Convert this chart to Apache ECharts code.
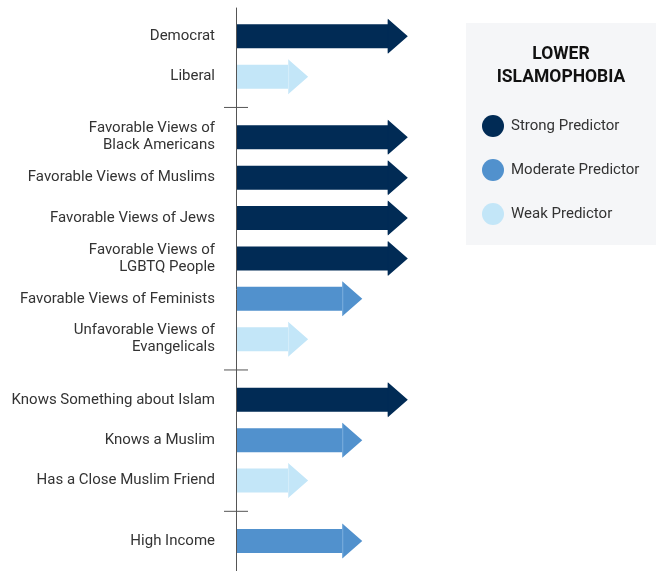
<!DOCTYPE html>
<html>
<head>
<meta charset="utf-8">
<script src="https://cdn.jsdelivr.net/npm/echarts@6/dist/echarts.min.js"></script>
<style>
  html, body { margin: 0; padding: 0; background: #fff; }
  #main { width: 656px; height: 571px; }
</style>
</head>
<body>
<div id="main"></div>
<script>
// rows, top to bottom
const labels = [
  'Democrat',
  'Liberal',
  'Favorable Views of\nBlack Americans',
  'Favorable Views of Muslims',
  'Favorable Views of Jews',
  'Favorable Views of\nLGBTQ People',
  'Favorable Views of Feminists',
  'Unfavorable Views of\nEvangelicals',
  'Knows Something about Islam',
  'Knows a Muslim',
  'Has a Close Muslim Friend',
  'High Income'
]
const strength = ['Strong', 'Weak', 'Strong', 'Strong', 'Strong', 'Strong',
  'Moderate', 'Weak', 'Strong', 'Moderate', 'Weak', 'Moderate']
// rows per group (groups split by a tick on the axis)
const groupSizes = [2, 6, 3, 1]
// arrow body length for each level
const levelValue = { Strong: 3, Moderate: 2.1, Weak: 1.03 }
const levels = ['Strong', 'Moderate', 'Weak']
const colors = { Strong: '#012b55', Moderate: '#5191cd', Weak: '#c3e6f8' }
const seams = { Strong: '#012b55', Moderate: '#7eb0de', Weak: '#d6eefa' }

// row positions: 1 per row, 1.5 between groups
let rowPos = []
let sepPos = []
let p = 0
groupSizes.forEach((n, g) => {
  for (let i = 0; i < n; i++) {
    rowPos.push(p)
    p += 1
  }
  if (g < groupSizes.length - 1) {
    sepPos.push(p - 0.25)
    p += 0.5
  }
})

function arrowItem(params, api) {
  let base = api.coord([0, api.value(1)])
  let end = api.coord([api.value(0), api.value(1)])
  let y = base[1]
  let x0 = base[0] + 1
  let xb = end[0]
  let lvl = strength[api.value(2)]
  let bh = 12, hh = 17.5, hl = 19
  return {
    type: 'group',
    children: [
      {
        type: 'polygon',
        shape: {
          points: [[x0, y - bh], [xb, y - bh], [xb, y - hh], [xb + hl + 1, y],
            [xb, y + hh], [xb, y + bh], [x0, y + bh]]
        },
        style: { fill: colors[lvl] }
      },
      {
        type: 'line',
        shape: { x1: xb + 0.5, y1: y - hh + 1, x2: xb + 0.5, y2: y + hh - 1 },
        style: { stroke: seams[lvl], lineWidth: 1 }
      },
      {
        type: 'text',
        x: base[0] - 21,
        y: y,
        style: {
          text: labels[api.value(2)],
          align: 'right',
          verticalAlign: 'middle',
          fill: '#333',
          font: '15px Roboto',
          lineHeight: 17
        }
      }
    ]
  }
}

function sepItem(params, api) {
  let c = api.coord([0, api.value(0)])
  return {
    type: 'line',
    shape: { x1: c[0] - 12, y1: c[1] + 0.5, x2: c[0] + 12, y2: c[1] + 0.5 },
    style: { stroke: '#555', lineWidth: 1 }
  }
}

let series = levels.map(lvl => ({
  name: lvl + ' Predictor',
  type: 'custom',
  renderItem: arrowItem,
  clip: false,
  itemStyle: { color: colors[lvl] },
  encode: { x: 0, y: 1 },
  data: strength.map((s, i) => s === lvl ? [levelValue[s], rowPos[i], i] : null)
    .filter(d => d)
}))
series.push({
  type: 'custom',
  renderItem: sepItem,
  clip: false,
  silent: true,
  encode: { y: 0 },
  data: sepPos.map(v => [v])
})

let myChart = echarts.init(document.getElementById('main'))
let option = {
  animation: false,
  grid: { left: 236, top: 8, width: 420, height: 563 },
  xAxis: { type: 'value', min: 0, max: 8.3, show: false },
  yAxis: {
    type: 'value',
    inverse: true,
    min: -0.7,
    max: 13.24,
    axisLine: { show: true, lineStyle: { color: '#555', width: 1 } },
    axisTick: { show: false },
    axisLabel: { show: false },
    splitLine: { show: false }
  },
  graphic: [
    {
      type: 'rect',
      shape: { x: 466, y: 23, width: 190, height: 222 },
      style: { fill: '#f5f6f8' },
      z: -10
    },
    {
      type: 'text',
      x: 561,
      y: 43,
      style: {
        text: 'LOWER\nISLAMOPHOBIA',
        align: 'center',
        fill: '#111',
        font: 'bold 17.5px Roboto',
        lineHeight: 23
      }
    }
  ],
  legend: {
    left: 482,
    top: 115,
    orient: 'vertical',
    icon: 'circle',
    itemWidth: 22,
    itemHeight: 22,
    itemGap: 22,
    padding: 0,
    selectedMode: false,
    textStyle: { color: '#333', fontSize: 15, fontFamily: 'Roboto', padding: [0, 0, 0, 2] },
    data: levels.map(l => l + ' Predictor')
  },
  series: series
}
myChart.setOption(option)
</script>
</body>
</html>
